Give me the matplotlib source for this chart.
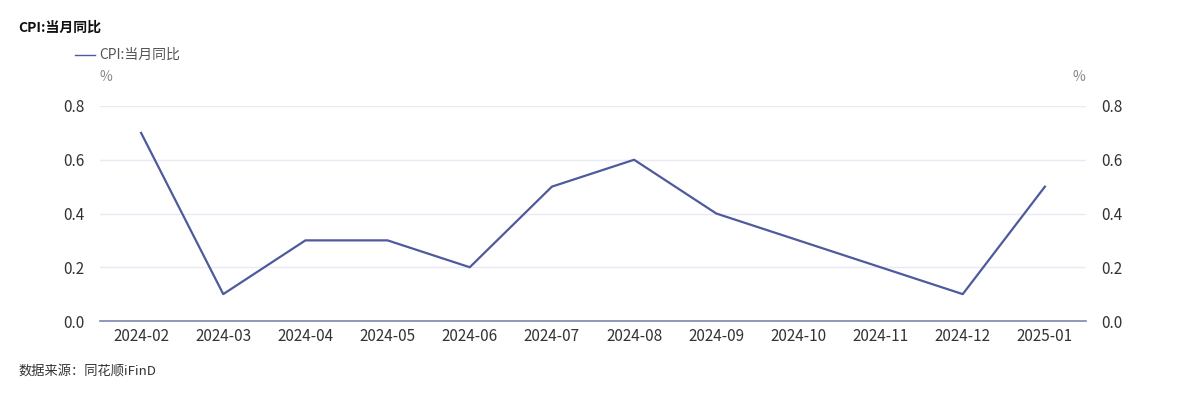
import matplotlib
matplotlib.use('Agg')
import matplotlib.pyplot as plt

plt.rcParams['font.family'] = ['Noto Sans CJK SC', 'DejaVu Sans']

months = ['2024-02', '2024-03', '2024-04', '2024-05', '2024-06', '2024-07',
          '2024-08', '2024-09', '2024-10', '2024-11', '2024-12', '2025-01']
cpi_yoy = [0.7, 0.1, 0.3, 0.3, 0.2, 0.5, 0.6, 0.4, 0.3, 0.2, 0.1, 0.5]
yticks = [0.0, 0.2, 0.4, 0.6, 0.8]

line_color = '#4e5a9c'
grid_color = '#e8eaf6'
text_color = '#333333'

fig = plt.figure(figsize=(11.84, 3.98), dpi=100)
ax = fig.add_axes([100 / 1184, 77 / 398, 986 / 1184, 215 / 398])

x = range(len(months))
ax.plot(x, cpi_yoy, color=line_color, linewidth=1.6)

ax.set_xlim(-0.5, len(months) - 0.5)
ax.set_ylim(0, 0.8)
ax.set_yticks(yticks)
ax.set_yticklabels([f'{v:.1f}' for v in yticks])
ax.set_xticks(list(x))
ax.set_xticklabels(months)

ax.grid(axis='y', color=grid_color, linewidth=1)
ax.set_axisbelow(True)
for s in ['top', 'left', 'right']:
    ax.spines[s].set_visible(False)
ax.spines['bottom'].set_color('#7f86b0')
ax.spines['bottom'].set_linewidth(1.2)

ax.tick_params(axis='x', length=0, pad=5, labelsize=11, labelcolor=text_color)
ax.tick_params(axis='y', length=0, pad=11, labelsize=11, labelcolor=text_color)

# right axis mirrors the left
ax2 = ax.twinx()
ax2.set_ylim(0, 0.8)
ax2.set_yticks(yticks)
ax2.set_yticklabels([f'{v:.1f}' for v in yticks])
ax2.tick_params(axis='y', length=0, pad=11, labelsize=11, labelcolor=text_color)
for s in ['top', 'left', 'right', 'bottom']:
    ax2.spines[s].set_visible(False)

fig.text(18 / 1184, 1 - 28 / 398, 'CPI:当月同比', fontsize=10, fontweight='bold',
         color='#111111', va='center', ha='left')

fig.lines.append(plt.Line2D([75 / 1184, 95 / 1184], [1 - 55 / 398, 1 - 55 / 398],
                            transform=fig.transFigure, color=line_color, linewidth=1))
fig.text(99 / 1184, 1 - 55 / 398, 'CPI:当月同比', fontsize=10, color='#555555',
         va='center', ha='left')

fig.text(106 / 1184, 1 - 77 / 398, '%', fontsize=10, color='#888888', va='center', ha='center')
fig.text(1079 / 1184, 1 - 77 / 398, '%', fontsize=10, color='#888888', va='center', ha='center')

fig.text(18 / 1184, 1 - 371 / 398, '数据来源：同花顺iFinD', fontsize=9.5, color='#333333',
         va='center', ha='left')

fig.savefig('out.png', dpi=100)
